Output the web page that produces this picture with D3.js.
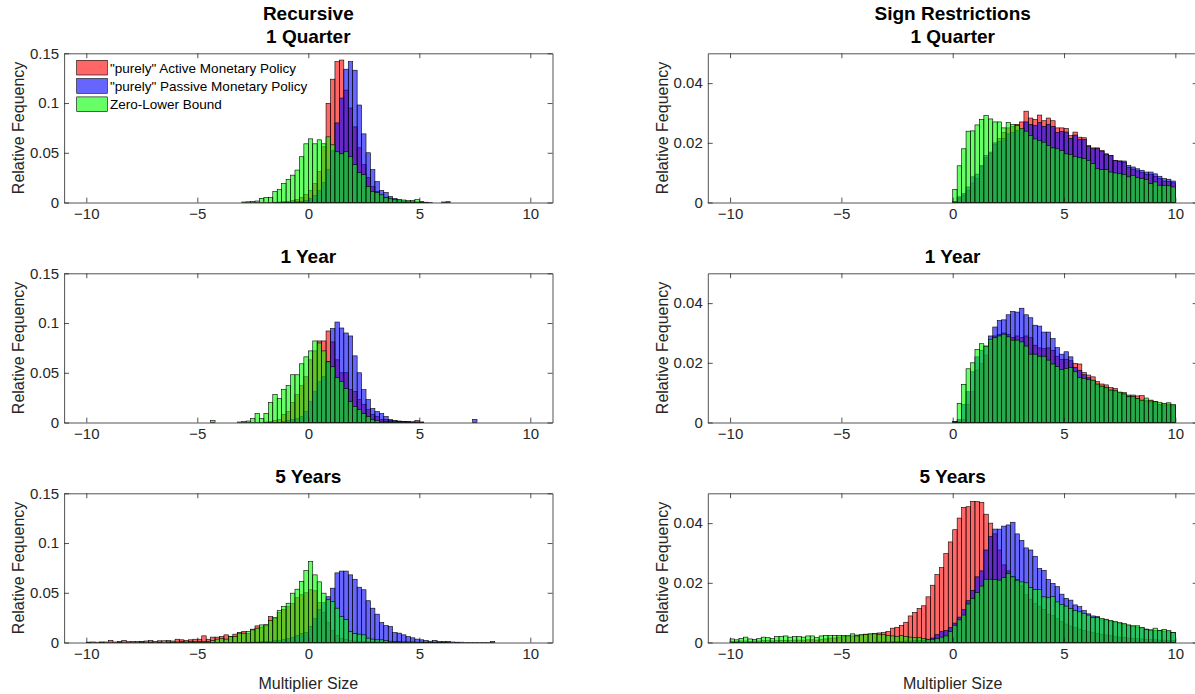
<!DOCTYPE html>
<html>
<head>
<meta charset="utf-8">
<script src="https://cdn.jsdelivr.net/npm/d3@7/dist/d3.min.js"></script>
<style>
  html, body { margin: 0; padding: 0; background: #fff; }
  svg { display: block; font-family: "Liberation Sans", Arial, Helvetica, sans-serif; }
</style>
</head>
<body>
<svg id="chart" width="1195" height="694"></svg>
<script>
// ---------------- DATA ----------------
const binWidth = 0.2;
const seriesNames = ['"purely" Active Monetary Policy', '"purely" Passive Monetary Policy', 'Zero-Lower Bound'];
const seriesColors = ["#ff0000", "#0000ff", "#00ff00"];
const colTitles = ["Recursive", "Sign Restrictions"];
const rowTitles = ["1 Quarter", "1 Year", "5 Years"];
const xTicks = [-10, -5, 0, 5, 10];
const leftYTicks = [0, 0.05, 0.1, 0.15];
const leftYTickLabels = ["0", "0.05", "0.1", "0.15"];
const rightYTicks = [0, 0.02, 0.04];
const rightYTickLabels = ["0", "0.02", "0.04"];
const yLabel = "Relative Fequency";
const xLabel = "Multiplier Size";

// Recursive, 1 Quarter (bins start at -3.0)
const rec1Q_start = -3.0;
const rec1Q_active = [0,0,0,0,0,0,0,0.0003,0.0005,0.0008,0.0012,0.0020,0.0030,0.0050,0.0080,0.0120,0.0190,0.0310,0.0560,0.0997,0.1240,0.1416,0.1432,0.1130,0.0950,0.0760,0.0550,0.0380,0.0250,0.0160,0.0110,0.0070,0.0050,0.0030,0.0020,0.0015,0.0010,0.0008,0.0005,0.0004,0.0003,0.0002,0,0,0,0,0];
const rec1Q_passive = [0,0,0,0,0,0,0,0,0,0.0002,0.0003,0.0005,0.0008,0.0012,0.0020,0.0040,0.0070,0.0120,0.0200,0.0330,0.0520,0.0800,0.1050,0.1340,0.1416,0.1330,0.0980,0.0690,0.0500,0.0330,0.0210,0.0120,0.0100,0.0060,0.0040,0.0025,0.0015,0.0010,0.0008,0.0005,0.0004,0.0003,0.0002,0,0,0.0005,0.0008];
const rec1Q_zlb = [0.0005,0.0007,0.0010,0.0015,0.0040,0.0050,0.0050,0.0110,0.0130,0.0190,0.0230,0.0275,0.0326,0.0460,0.0590,0.0640,0.0590,0.0630,0.0590,0.0660,0.0580,0.0510,0.0490,0.0510,0.0460,0.0380,0.0300,0.0280,0.0160,0.0110,0.0100,0.0080,0.0050,0.0040,0.0030,0.0030,0.0025,0.0020,0.0020,0.0030,0.0008,0,0,0,0,0,0];

// Recursive, 1 Year (bins start at -4.4)
const rec1Y_start = -4.4;
const rec1Y_active = [0,0,0,0,0,0,0,0,0,0,0,0,0.0005,0.001,0.002,0.003,0.008,0.011,0.020,0.028,0.037,0.046,0.063,0.072,0.082,0.082,0.092,0.081,0.063,0.050,0.050,0.033,0.031,0.023,0.018,0.013,0.008,0.006,0.003,0.003,0.002,0.0015,0.001,0.001,0.0008,0.0006,0.002,0.0005,0,0,0,0,0,0,0,0,0,0,0,0];
const rec1Y_passive = [0,0,0,0,0,0,0,0,0,0,0,0,0,0,0,0,0.001,0.002,0.003,0.004,0.006,0.011,0.021,0.031,0.041,0.046,0.061,0.0944,0.101,0.095,0.090,0.087,0.067,0.050,0.033,0.023,0.014,0.011,0.009,0.006,0.003,0.002,0.0015,0.001,0.0008,0.0005,0.0005,0.0003,0,0,0,0,0,0,0,0,0,0,0,0.003];
const rec1Y_zlb = [0.002,0,0,0,0,0,0.0005,0.001,0.0015,0.004,0.009,0.004,0.009,0.020,0.028,0.024,0.033,0.037,0.048,0.048,0.059,0.066,0.072,0.082,0.080,0.072,0.061,0.056,0.045,0.041,0.034,0.021,0.016,0.013,0.009,0.006,0.003,0.002,0.0013,0.001,0.0008,0.0005,0.0005,0,0,0,0,0,0,0,0,0,0,0,0,0,0,0,0,0];

// Recursive, 5 Years (bins start at -10)
const rec5Y_start = -10;
const rec5Y_active = [0.0003,0.0005,0.0003,0.0005,0.0005,0.0020,0.0005,0.0010,0.0020,0.0008,
  0.0010,0.0010,0.0010,0.0015,0.0020,0.0010,0.0017,0.0017,0.0020,0.0015,
  0.0033,0.0027,0.0020,0.0027,0.0033,0.0033,0.0067,0.0033,0.0054,0.0054,
  0.0060,0.0077,0.0060,0.0084,0.0100,0.0110,0.0090,0.0134,0.0167,0.0155,
  0.0177,0.0260,0.0240,0.0300,0.0330,0.0360,0.0390,0.0450,0.0480,0.0500,
  0.0530,0.0520,0.0400,0.0300,0.0200,0.0120,0.0070,0.0040,0.0030,0.0020,
  0.0015,0.0010,0.0010,0.0008,0.0008,0.0006,0.0005,0.0005,0.0004,0.0004,
  0.0003,0.0003,0.0003,0.0002,0.0002,0.0002,0.0002,0.0001,0.0001,0.0001,
  0.0001,0,0,0.0001,0,0,0,0,0,0,
  0,0.0012,0,0,0,0,0,0,0,0];
const rec5Y_passive = [0,0,0,0,0,0,0,0,0,0,
  0,0,0,0,0,0,0,0,0,0,
  0,0,0,0,0,0,0,0,0,0,
  0,0,0,0,0,0.0002,0.0003,0.0004,0.0005,0.0008,
  0.0010,0.0010,0.0020,0.0020,0.0030,0.0040,0.0050,0.0070,0.0090,0.0100,
  0.0160,0.0240,0.0330,0.0400,0.0460,0.0546,0.0700,0.0718,0.0718,0.0680,
  0.0636,0.0556,0.0530,0.0420,0.0345,0.0285,0.0200,0.0170,0.0160,0.0100,
  0.0094,0.0077,0.0060,0.0047,0.0034,0.0027,0.0020,0.0013,0.0020,0.0010,
  0.0010,0.0005,0.0005,0.0003,0.0003,0.0002,0.0002,0.0002,0.0001,0.0001,
  0.0001,0,0,0,0,0,0,0,0,0];
const rec5Y_zlb = [0.0003,0,0,0.0003,0,0,0,0.0003,0,0,
  0,0,0.0005,0,0.0003,0,0.0003,0,0.0005,0.0003,
  0.0005,0.0008,0.0005,0.0010,0.0008,0.0012,0.0010,0.0010,0.0020,0.0034,
  0.0040,0.0034,0.0060,0.0060,0.0094,0.0094,0.0110,0.0127,0.0144,0.0177,
  0.0177,0.0220,0.0250,0.0320,0.0360,0.0395,0.0496,0.0536,0.0613,0.0723,
  0.0813,0.0680,0.0610,0.0496,0.0430,0.0410,0.0345,0.0260,0.0230,0.0110,
  0.0090,0.0084,0.0077,0.0044,0.0034,0.0027,0.0027,0.0020,0.0013,0.0010,
  0.0008,0.0005,0.0005,0.0005,0.0003,0.0003,0.0003,0.0002,0.0002,0.0002,
  0.0002,0.0012,0,0,0,0,0,0,0,0,
  0,0,0,0,0,0,0,0,0,0];

// Sign Restrictions, 1 Quarter (bins start at 0)
const sign1Q_start = 0;
const sign1Q_active = [0.0003,0.0015,0.0025,0.0040,0.0065,0.0080,0.0120,0.0150,0.0165,0.0195,
  0.0215,0.0235,0.0250,0.0255,0.0262,0.0270,0.0306,0.0283,0.0278,0.0293,
  0.0274,0.0283,0.0274,0.0250,0.0250,0.0248,0.0224,0.0236,0.0219,0.0217,
  0.0191,0.0183,0.0183,0.0174,0.0163,0.0158,0.0141,0.0139,0.0135,0.0118,
  0.0112,0.0106,0.0100,0.0095,0.0094,0.0088,0.0080,0.0072,0.0071,0.0066];
const sign1Q_passive = [0.0004,0.0019,0.0030,0.0052,0.0086,0.0095,0.0124,0.0158,0.0169,0.0200,
  0.0205,0.0215,0.0230,0.0235,0.0242,0.0245,0.0270,0.0262,0.0258,0.0268,
  0.0255,0.0262,0.0255,0.0235,0.0238,0.0236,0.0215,0.0226,0.0212,0.0212,
  0.0188,0.0180,0.0181,0.0172,0.0162,0.0157,0.0140,0.0139,0.0139,0.0124,
  0.0119,0.0113,0.0108,0.0102,0.0102,0.0096,0.0088,0.0080,0.0078,0.0072];
const sign1Q_zlb = [0.0044,0.0123,0.0180,0.0239,0.0240,0.0260,0.0278,0.0291,0.0280,0.0270,
  0.0270,0.0250,0.0268,0.0262,0.0258,0.0248,0.0239,0.0224,0.0213,0.0208,
  0.0202,0.0191,0.0183,0.0180,0.0174,0.0163,0.0161,0.0154,0.0150,0.0147,
  0.0141,0.0130,0.0113,0.0110,0.0110,0.0102,0.0099,0.0097,0.0094,0.0086,
  0.0091,0.0083,0.0080,0.0077,0.0063,0.0069,0.0058,0.0057,0.0056,0.0052];

// Sign Restrictions, 1 Year (bins start at 0)
const sign1Y_start = 0;
const sign1Y_active = [0.0002,0.0004,0.0010,0.0060,0.0103,0.0176,0.0198,0.0226,0.0270,0.0290,
  0.0295,0.0300,0.0295,0.0285,0.0290,0.0285,0.0290,0.0284,0.0259,0.0250,
  0.0248,0.0250,0.0242,0.0222,0.0211,0.0212,0.0207,0.0198,0.0196,0.0167,
  0.0159,0.0153,0.0137,0.0129,0.0126,0.0117,0.0114,0.0100,0.0100,0.0092,
  0.0092,0.0089,0.0090,0.0075,0.0075,0.0070,0.0062,0.0062,0.0062,0.0058];
const sign1Y_passive = [0.0003,0.0010,0.0060,0.0103,0.0170,0.0220,0.0242,0.0256,0.0290,0.0320,
  0.0342,0.0344,0.0361,0.0372,0.0370,0.0383,0.0361,0.0351,0.0326,0.0323,
  0.0303,0.0303,0.0281,0.0251,0.0229,0.0237,0.0220,0.0185,0.0175,0.0160,
  0.0150,0.0140,0.0127,0.0120,0.0116,0.0107,0.0105,0.0099,0.0094,0.0086,
  0.0085,0.0080,0.0073,0.0072,0.0068,0.0066,0.0060,0.0058,0.0059,0.0056];
const sign1Y_zlb = [0.0004,0.0064,0.0128,0.0180,0.0200,0.0245,0.0264,0.0256,0.0279,0.0284,
  0.0290,0.0296,0.0287,0.0276,0.0276,0.0270,0.0256,0.0229,0.0229,0.0222,
  0.0222,0.0209,0.0196,0.0187,0.0178,0.0181,0.0184,0.0170,0.0151,0.0148,
  0.0144,0.0142,0.0129,0.0122,0.0118,0.0109,0.0107,0.0102,0.0096,0.0087,
  0.0087,0.0081,0.0075,0.0082,0.0072,0.0070,0.0068,0.0064,0.0066,0.0060];

// Sign Restrictions, 5 Years (bins start at -10)
const sign5Y_start = -10;
const sign5Y_active = [0.0004,0.0004,0.0005,0.0005,0.0004,0.0005,0.0005,0.0006,0.0006,0.0005,
  0.0006,0.0007,0.0007,0.0006,0.0008,0.0008,0.0008,0.0009,0.0009,0.0008,
  0.0010,0.0012,0.0015,0.0015,0.0018,0.0020,0.0020,0.0022,0.0025,0.0025,
  0.0028,0.0028,0.0030,0.0032,0.0033,0.0037,0.0048,0.0051,0.0057,0.0068,
  0.0089,0.0101,0.0114,0.0123,0.0153,0.0192,0.0228,0.0251,0.0298,0.0337,
  0.0378,0.0417,0.0453,0.0455,0.0473,0.0472,0.0469,0.0430,0.0400,0.0364,
  0.0310,0.0260,0.0240,0.0220,0.0210,0.0190,0.0160,0.0145,0.0130,0.0120,
  0.0110,0.0095,0.0090,0.0080,0.0070,0.0062,0.0055,0.0050,0.0045,0.0040,
  0.0036,0.0033,0.0030,0.0027,0.0025,0.0023,0.0020,0.0018,0.0017,0.0015,
  0.0014,0.0013,0.0012,0.0010,0.0010,0.0009,0.0008,0.0008,0.0007,0.0007];
const sign5Y_passive = [0,0,0,0,0,0,0,0,0,0,
  0,0,0,0,0,0,0,0,0,0,
  0,0,0,0,0,0,0,0,0,0,
  0.0001,0.0001,0.0001,0.0002,0.0002,0.0002,0.0003,0.0003,0.0004,0.0005,
  0.0005,0.0006,0.0007,0.0008,0.0010,0.0015,0.0026,0.0037,0.0040,0.0050,
  0.0065,0.0085,0.0110,0.0140,0.0175,0.0220,0.0240,0.0310,0.0355,0.0380,
  0.0380,0.0390,0.0394,0.0403,0.0364,0.0342,0.0317,0.0310,0.0289,0.0248,
  0.0242,0.0211,0.0198,0.0187,0.0162,0.0148,0.0142,0.0126,0.0120,0.0107,
  0.0096,0.0089,0.0087,0.0076,0.0076,0.0072,0.0068,0.0064,0.0060,0.0057,
  0.0054,0.0052,0.0049,0.0045,0.0042,0.0040,0.0040,0.0038,0.0036,0.0034];
const sign5Y_zlb = [0.0012,0.0009,0.0014,0.0018,0.0012,0.0010,0.0013,0.0018,0.0016,0.0013,
  0.0020,0.0020,0.0022,0.0018,0.0020,0.0020,0.0018,0.0022,0.0022,0.0016,
  0.0022,0.0024,0.0024,0.0024,0.0024,0.0024,0.0024,0.0029,0.0022,0.0026,
  0.0026,0.0029,0.0029,0.0026,0.0026,0.0024,0.0022,0.0020,0.0024,0.0020,
  0.0018,0.0016,0.0016,0.0014,0.0011,0.0011,0.0013,0.0018,0.0022,0.0037,
  0.0058,0.0076,0.0092,0.0129,0.0148,0.0167,0.0189,0.0212,0.0212,0.0211,
  0.0209,0.0218,0.0231,0.0220,0.0209,0.0203,0.0200,0.0184,0.0178,0.0178,
  0.0153,0.0150,0.0154,0.0136,0.0128,0.0122,0.0114,0.0107,0.0103,0.0098,
  0.0092,0.0084,0.0084,0.0081,0.0078,0.0073,0.0070,0.0067,0.0064,0.0059,
  0.0056,0.0056,0.0051,0.0044,0.0042,0.0048,0.0040,0.0044,0.0040,0.0033];

// ---------------- LAYOUT ----------------
const svg = d3.select("#chart");
const colRanges = [[64.1, 552.5], [707.8, 1197.6]];
const rowTops = [53.3, 273.3, 493.3];
const axH = 149.2;
const xDomain = [-11, 11];
const textColor = "#262626";

const panels = [
  {col:0,row:0,start:rec1Q_start,series:[rec1Q_active,rec1Q_passive,rec1Q_zlb],ymax:0.15,yt:leftYTicks,ytl:leftYTickLabels,legend:true},
  {col:0,row:1,start:rec1Y_start,series:[rec1Y_active,rec1Y_passive,rec1Y_zlb],ymax:0.15,yt:leftYTicks,ytl:leftYTickLabels},
  {col:0,row:2,start:rec5Y_start,series:[rec5Y_active,rec5Y_passive,rec5Y_zlb],ymax:0.15,yt:leftYTicks,ytl:leftYTickLabels},
  {col:1,row:0,start:sign1Q_start,series:[sign1Q_active,sign1Q_passive,sign1Q_zlb],ymax:0.05,yt:rightYTicks,ytl:rightYTickLabels},
  {col:1,row:1,start:sign1Y_start,series:[sign1Y_active,sign1Y_passive,sign1Y_zlb],ymax:0.05,yt:rightYTicks,ytl:rightYTickLabels},
  {col:1,row:2,start:sign5Y_start,series:[sign5Y_active,sign5Y_passive,sign5Y_zlb],ymax:0.05,yt:rightYTicks,ytl:rightYTickLabels}
];

panels.forEach(p => {
  const x = d3.scaleLinear().domain(xDomain).range(colRanges[p.col]);
  const top = rowTops[p.row];
  const y = d3.scaleLinear().domain([0, p.ymax]).range([top + axH, top]);
  const g = svg.append("g");

  // bars: red, blue, green (green on top)
  p.series.forEach((vals, si) => {
    const data = vals.map((v, i) => ({x0: p.start + i * binWidth, v: v})).filter(d => d.v > 0);
    g.append("g").selectAll("rect").data(data).join("rect")
      .attr("x", d => x(d.x0))
      .attr("width", d => x(d.x0 + binWidth) - x(d.x0))
      .attr("y", d => y(d.v))
      .attr("height", d => y(0) - y(d.v))
      .attr("fill", seriesColors[si])
      .attr("fill-opacity", 0.6)
      .attr("stroke", "#000")
      .attr("stroke-width", 0.6);
  });

  // axes (ticks inward, box)
  const tickLen = 4.9;
  const axB = d3.axisBottom(x).tickValues(xTicks).tickFormat(d3.format("d")).tickSize(-tickLen).tickSizeOuter(0).tickPadding(6);
  const axT = d3.axisTop(x).tickValues(xTicks).tickFormat("").tickSize(-tickLen).tickSizeOuter(0);
  const axL = d3.axisLeft(y).tickValues(p.yt).tickFormat((d, i) => p.ytl[i]).tickSize(-tickLen).tickSizeOuter(0).tickPadding(5);
  const axR = d3.axisRight(y).tickValues(p.yt).tickFormat("").tickSize(-tickLen).tickSizeOuter(0);
  const styleAx = sel => {
    sel.selectAll("path").attr("stroke", textColor).attr("stroke-width", 0.8);
    sel.selectAll("line").attr("stroke", textColor).attr("stroke-width", 0.8);
    sel.selectAll("text").attr("fill", textColor).style("font-size", "15px")
      .style("font-family", '"Liberation Sans", Arial, Helvetica, sans-serif');
  };
  g.append("g").attr("transform", `translate(0,${top + axH})`).call(axB).call(styleAx);
  g.append("g").attr("transform", `translate(0,${top})`).call(axT).call(styleAx);
  g.append("g").attr("transform", `translate(${colRanges[p.col][0]},0)`).call(axL).call(styleAx);
  g.append("g").attr("transform", `translate(${colRanges[p.col][1]},0)`).call(axR).call(styleAx);

  // y label
  const cy = top + axH / 2;
  g.append("text")
    .attr("transform", `translate(${colRanges[p.col][0] - 40},${cy}) rotate(-90)`)
    .attr("text-anchor", "middle")
    .attr("fill", textColor)
    .style("font-size", "16px")
    .text(yLabel);

  // titles
  const cx = (colRanges[p.col][0] + colRanges[p.col][1]) / 2;
  if (p.row === 0) {
    g.append("text").attr("x", cx).attr("y", 19.5).attr("text-anchor", "middle")
      .style("font-size", "19px").style("font-weight", "bold").attr("fill", "#000").text(colTitles[p.col]);
  }
  g.append("text").attr("x", cx).attr("y", top - 10.3).attr("text-anchor", "middle")
    .style("font-size", "19px").style("font-weight", "bold").attr("fill", "#000").text(rowTitles[p.row]);

  // x label on bottom row
  if (p.row === 2) {
    g.append("text").attr("x", cx).attr("y", 688.5).attr("text-anchor", "middle")
      .attr("fill", textColor).style("font-size", "16px").text(xLabel);
  }

  // legend
  if (p.legend) {
    const lg = g.append("g");
    seriesNames.forEach((name, i) => {
      const ly = 60.3 + i * 18.3;
      lg.append("rect").attr("x", 76.7).attr("y", ly).attr("width", 30.6).attr("height", 14.7)
        .attr("fill", seriesColors[i]).attr("fill-opacity", 0.6).attr("stroke", "#000").attr("stroke-width", 0.6);
      lg.append("text").attr("x", 110).attr("y", ly + 7.6).attr("dy", "0.35em")
        .attr("fill", "#000").style("font-size", "13.5px").text(name);
    });
  }
});
</script>
</body>
</html>
